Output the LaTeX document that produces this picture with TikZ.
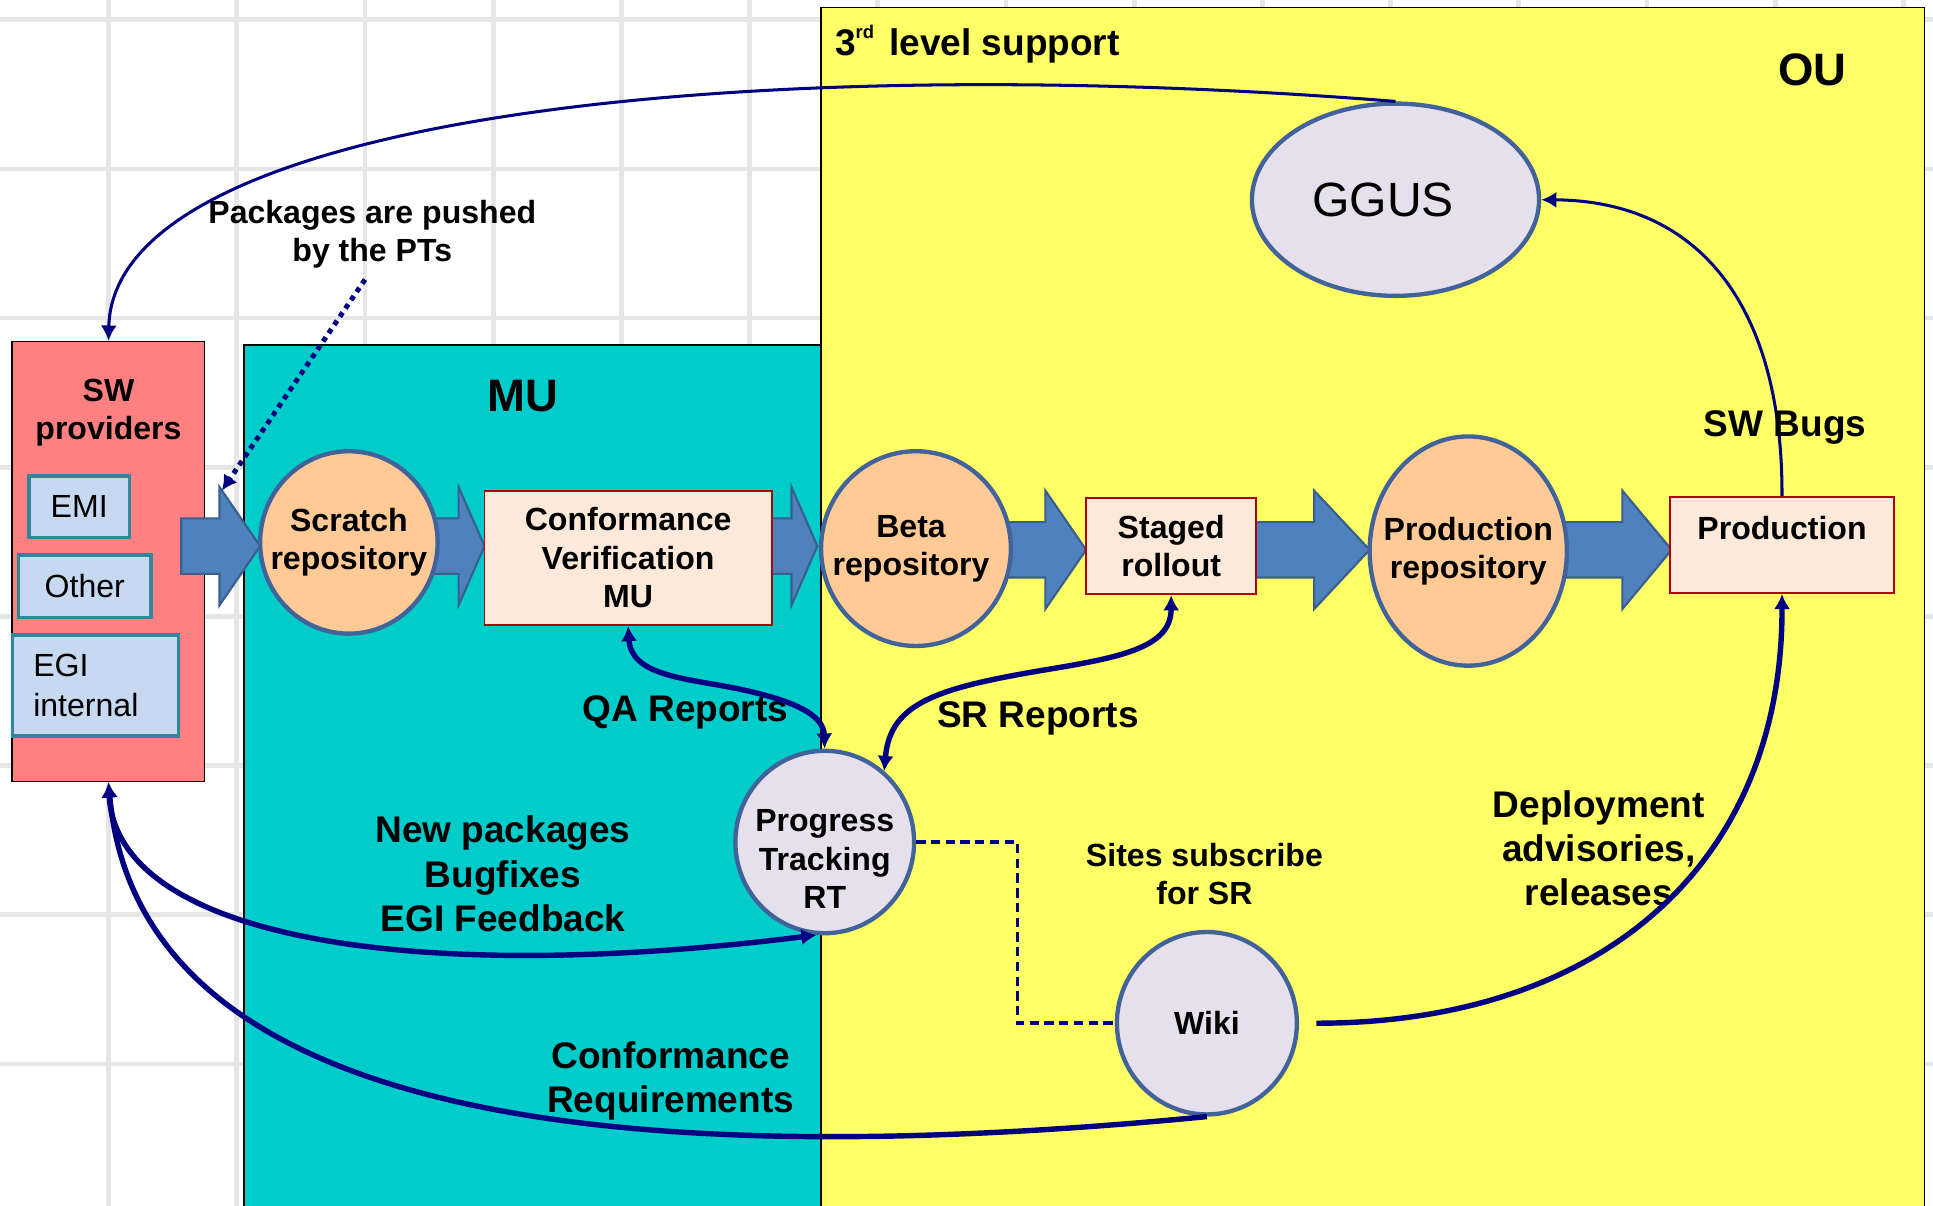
\documentclass[tikz,border=0pt]{standalone}
\usepackage{fontspec}
\setmainfont{Liberation Sans}
\usetikzlibrary{arrows.meta,shapes.geometric}
\definecolor{ouyellow}{HTML}{FFFF66}
\definecolor{mucyan}{HTML}{00CCCC}
\definecolor{swpink}{HTML}{FF8080}
\definecolor{repofill}{HTML}{FFCA96}
\definecolor{lavfill}{HTML}{E5E0EC}
\definecolor{peach}{HTML}{FDE9D9}
\definecolor{boxred}{HTML}{B00000}
\definecolor{ellborder}{HTML}{41639A}
\definecolor{barrowfill}{HTML}{4F81BD}
\definecolor{barrowline}{HTML}{3A5F8F}
\definecolor{navyc}{HTML}{000080}
\definecolor{sbfill}{HTML}{C6D9F1}
\definecolor{sbborder}{HTML}{31859C}
\definecolor{gridc}{HTML}{E6E6E6}
\newcommand\blockarrow[4]{\filldraw[barrowst] (#1,#4-22.5) -- (#2,#4-22.5) -- (#2,#4-48) -- (#3,#4) -- (#2,#4+48) -- (#2,#4+22.5) -- (#1,#4+22.5) -- cycle;}
\begin{document}
\begin{tikzpicture}[x=0.02cm, y=-0.02cm,
  every node/.style={inner sep=0pt},
  fA/.style={font=\fontsize{14.8pt}{17.7pt}\selectfont\bfseries},
  fB/.style={font=\fontsize{17.1pt}{20.5pt}\selectfont\bfseries},
  fC/.style={font=\fontsize{21pt}{25pt}\selectfont\bfseries},
  fG/.style={font=\fontsize{22.2pt}{26pt}\selectfont},
  fR/.style={font=\fontsize{14.8pt}{18.2pt}\selectfont},
  gridl/.style={draw=gridc, line width=2.2pt},
  region/.style={draw=black, line width=0.7pt},
  swbox/.style={draw=black, line width=0.8pt, fill=swpink},
  sbox/.style={draw=sbborder, line width=1.6pt, fill=sbfill, fR},
  barrowst/.style={fill=barrowfill, draw=barrowline, line width=1pt},
  ellbase/.style={ellipse, draw=ellborder, line width=2pt},
  repoell/.style={ellbase, fill=repofill},
  lavell/.style={ellbase, fill=lavfill},
  pbox/.style={draw=boxred, line width=0.9pt, fill=peach},
  thinconn/.style={draw=navyc, line width=1.4pt},
  thickconn/.style={draw=navyc, line width=2.5pt},
  >={Latex[length=7pt,width=7.5pt]}
]
\useasboundingbox (0,0) rectangle (1568,978);
\fill[white] (0,0) rectangle (1568,978);
% slide background grid
\foreach \gx in {-16,88,...,1600} \draw[gridl] (\gx,0) -- (\gx,978);
\foreach \gy in {16,137,...,990} \draw[gridl] (0,\gy) -- (1568,\gy);
% regions
\filldraw[region, fill=ouyellow] (666,1000) -- (666,6) -- (1561,6) -- (1561,1000) -- cycle;
\filldraw[region, fill=mucyan] (198,1000) -- (198,280) -- (666,280) -- (666,1000) -- cycle;
% SW providers
\node[swbox, minimum width=3.12cm, minimum height=7.14cm,
  label={[fA, align=center, yshift=2.42cm]center:{SW\\providers}}] (sw) at (88,455.5) {};
\node[sbox, minimum width=1.63cm, minimum height=1cm] (emi) at (64.25,411) {EMI};
\node[sbox, minimum width=2.15cm, minimum height=1.02cm] (other) at (68.75,475.5) {Other};
\node[sbox, minimum height=1.64cm, text width=2.02cm, inner xsep=0.34cm, align=left] (egi) at (77.5,556) {EGI\\internal};
% block arrows
\blockarrow{147}{178}{211}{443}
\blockarrow{340}{372}{393}{443}
\blockarrow{620}{642}{663}{443}
\blockarrow{810}{848}{881}{446}
\blockarrow{1012}{1066}{1111}{446}
\blockarrow{1265}{1316}{1356}{446}
% nodes
\node[repoell, minimum width=2.88cm, minimum height=2.96cm,
  label={[fA, align=center]center:{Scratch\\repository}}] (scratch) at (283,440) {};
\node[pbox, minimum width=4.66cm, minimum height=2.18cm, fA, align=center] (conf) at (509.5,452.5) {Conformance\\Verification\\MU};
\node[repoell, minimum width=3.08cm, minimum height=3.16cm,
  label={[fA, align=center, xshift=-0.08cm]center:{Beta\\repository}}] (beta) at (743,445) {};
\node[pbox, minimum width=2.76cm, minimum height=1.56cm, fA, align=center] (staged) at (950,443) {\raisebox{-2pt}{Staged}\\\raisebox{-2pt}{rollout}};
\node[repoell, minimum width=3.2cm, minimum height=3.72cm,
  label={[fA, align=center]center:{Production\\repository}}] (prodrepo) at (1191,447) {};
\node[pbox, minimum width=3.62cm, minimum height=1.56cm,
  label={[fA, yshift=0.28cm]center:Production}] (prod) at (1445.5,442) {};
\node[lavell, minimum width=4.66cm, minimum height=3.12cm,
  label={[fG, xshift=-0.2cm]center:GGUS}] (ggus) at (1132,162) {};
\node[lavell, minimum width=2.9cm, minimum height=2.96cm,
  label={[fA, align=center, yshift=-0.28cm]center:{Progress\\Tracking\\RT}}] (prog) at (669,683) {};
\node[lavell, minimum width=2.92cm, minimum height=2.96cm,
  label={[fA]center:Wiki}] (wiki) at (979,830) {};
% texts
\node[fA, align=center] (pt) at (302,190) {Packages are pushed\\by the PTs};
\node[fB] (qa) at (556,578) {QA Reports};
\node[fB] (sr) at (842,583) {SR Reports};
\node[fB, align=center] (newp) at (408,709) {New packages\\Bugfixes\\EGI Feedback};
\node[fB, align=center] (creq) at (544,877) {Conformance\\Requirements};
\node[fA, align=center] (sites) at (977,709) {Sites subscribe\\for SR};
\node[fB, align=center] (depl) at (1297,688) {Deployment\\advisories,\\releases};
\node[fC] (ou) at (1470,57) {OU};
\node[fC] (mu) at (424,321) {MU};
\node[fB, anchor=base west] (lvl) at (677,45) {3\raisebox{0.85ex}{\fontsize{8.5pt}{8.5pt}\selectfont rd}\hspace{7pt}level support};
\coordinate (pttip) at (180,398);
% connectors
\draw[thinconn, ->] (ggus.north) .. controls (600,40) and (92,95) .. (sw.north);
\draw[thinconn, ->] (prod.north) .. controls (1446,250) and (1380,163) .. (ggus.east);
\draw[draw=navyc, line width=2.3pt, dash pattern=on 2.3pt off 2.3pt, ->, shorten <=6pt] (pt.south) -- (pttip);
\draw[thickconn, <->] (conf.south) .. controls (512,548) and (555,550) .. (595,558) .. controls (645,568) and (668,580) .. (prog.north);
\draw[thickconn, <->] (staged.south) .. controls (950,525) and (910,533) .. (850,543) .. controls (760,558) and (722,570) .. (prog.50);
\draw[thickconn, <->] (sw.south) .. controls (95,760) and (330,800) .. (prog.265);
\draw[thickconn, ->] (wiki.south) .. controls (420,960) and (110,880) .. (sw.south);
\draw[draw=navyc, line width=1.6pt, dash pattern=on 4.3pt off 2.5pt] (prog.east) -- ++(82,0) |- (wiki.west);
\draw[thickconn, ->, shorten <=8pt] (wiki.east) .. controls (1300,830) and (1446,700) .. (prod.south);
\node[fB] (swb) at (1448,347) {SW Bugs};
\end{tikzpicture}
\end{document}
